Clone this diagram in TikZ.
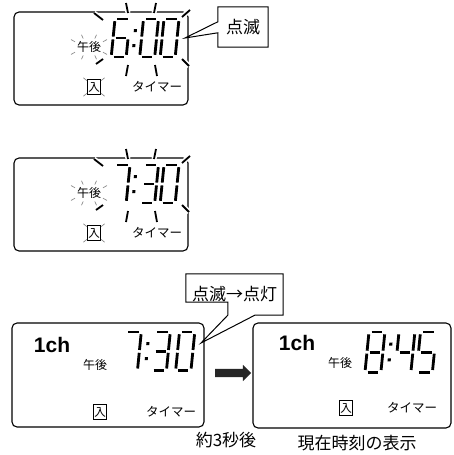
\documentclass[tikz,border=0pt]{standalone}
\usepackage{fontspec}
\usepackage{tikz}
\usetikzlibrary{shapes.arrows, calc}
\newfontfamily\jpfont{Noto Sans CJK JP}
\newfontfamily\chfont{Liberation Sans}

% one slanted seven-segment digit: [scale]{x}{y}{segments}
\newcommand{\lcddigit}[4][1]{%
  \begin{scope}[shift={(#2,#3)}, xslant=0.1, scale=#1]
    \coordinate (a1) at (2.4,0);   \coordinate (a2) at (12.6,0);
    \coordinate (b1) at (15,2.2);  \coordinate (b2) at (15,17.6);
    \coordinate (c1) at (15,20.4); \coordinate (c2) at (15,35.8);
    \coordinate (d1) at (2.4,38);  \coordinate (d2) at (12.6,38);
    \coordinate (e1) at (0,20.4);  \coordinate (e2) at (0,35.8);
    \coordinate (f1) at (0,2.2);   \coordinate (f2) at (0,17.6);
    \coordinate (g1) at (2.4,19);  \coordinate (g2) at (12.6,19);
    \foreach \s in {#4} {\draw[seg] (\s1) -- (\s2);}
  \end{scope}}
\newcommand{\lcdcolon}[3][1]{%
  \begin{scope}[shift={(#2,#3)}, xslant=0.1, scale=#1]
    \fill (-1.5,10) rectangle (1.5,13);
    \fill (-1.5,25) rectangle (1.5,28);
  \end{scope}}

\begin{document}
\begin{tikzpicture}[x=1pt, y=-1pt,
    lcd/.style={draw, line width=1.1pt, rounded corners=5pt},
    seg/.style={line width=2.8pt},
    flash/.style={line width=1.8pt, preaction={draw=white, line width=5pt}},
    glint/.style={black!45, line width=0.7pt},
    bubble/.style={draw, line width=1pt},
    pm/.style={font=\jpfont\fontsize{12}{12}\selectfont, inner sep=0pt},
    key/.style={draw, line width=1pt, font=\jpfont\fontsize{11.5}{11.5}\selectfont,
                minimum width=13pt, minimum height=15pt, inner sep=0pt},
    mode/.style={font=\jpfont\fontsize{12.5}{12.5}\selectfont, inner sep=0pt},
    chan/.style={font=\chfont\bfseries\fontsize{21}{21}\selectfont, inner sep=0pt},
    lbl/.style={font=\jpfont\fontsize{17}{17}\selectfont, inner sep=0pt}
  ]
  \useasboundingbox (0,0) rectangle (454,455);

  % display frames
  \node[lcd, minimum width=174pt, minimum height=93pt]  (lcdA) at (101,58.5) {};
  \node[lcd, minimum width=174pt, minimum height=93pt]  (lcdB) at (101,204.5) {};
  \node[lcd, minimum width=192pt, minimum height=104pt] (lcdC) at (108,375) {};
  \node[lcd, minimum width=198pt, minimum height=105pt] (lcdD) at (352,375.5) {};

  % blinking rays round the time
  \foreach \dy in {0,146} {
    \begin{scope}[shift={(0,\dy)}]
      \draw[flash] (94,13) -- (103,20);
      \draw[flash] (126,3) -- (128,13);
      \draw[flash] (156,3) -- (154,13);
      \draw[flash] (190,10) -- (182,17);
      \draw[flash] (182,59) -- (189,66);
      \draw[flash] (155,65) -- (157,76);
      \draw[flash] (128,65) -- (126,76);
      \draw[flash] (103,59) -- (96,64);
    \end{scope}
  }

  % texts
  \node[pm]   (pmA)   at (89,47)   {午後};
  \node[key]  (inA)   at (94,87)   {入};
  \node[mode] (modeA) at (157,87)  {タイマー};
  \node[pm]   (pmB)   at (89,193)  {午後};
  \node[key]  (inB)   at (94,233)  {入};
  \node[mode] (modeB) at (157,233) {タイマー};
  \node[chan] (chC)   at (52,345)  {1ch};
  \node[pm]   (pmC)   at (95,365)  {午後};
  \node[key]  (inC)   at (100,412) {入};
  \node[mode] (modeC) at (171,412) {タイマー};
  \node[chan] (chD)   at (297,343) {1ch};
  \node[pm]   (pmD)   at (340,363) {午後};
  \node[key]  (inD)   at (346,408) {入};
  \node[mode] (modeD) at (412,408) {タイマー};

  % small glints
  \foreach \p in {pmA,pmB}
    \foreach \a in {35,70,110,145,215,250,290,325}
      \draw[glint] ($(\p)+(\a:17 and 9)$) -- ($(\p)+(\a:22 and 13)$);
  \foreach \p in {inA,inB}
    \foreach \a in {45,135,225,315}
      \draw[glint] ($(\p)+(\a:10 and 9)$) -- ($(\p)+(\a:15 and 13)$);

  % digits
  \lcddigit{115}{19}{a,c,d,e,f,g}
  \lcdcolon{136.5}{19}
  \lcddigit{143.5}{19}{a,b,c,d,e,f}
  \lcddigit{164}{19}{a,b,c,d,e,f}

  \lcddigit{115}{165}{a,b,c}
  \lcdcolon{136.5}{165}
  \lcddigit{143.5}{165}{a,b,c,d,g}
  \lcddigit{164}{165}{a,b,c,d,e,f}

  \lcddigit[1.02]{126}{332}{a,b,c}
  \lcdcolon{149}{332}
  \lcddigit[1.02]{155}{332}{a,b,c,d,g}
  \lcddigit[1.02]{179.5}{332}{a,b,c,d,e,f}

  \lcddigit[1.06]{369}{332}{a,b,c,d,e,f,g}
  \lcdcolon[1.05]{392}{332}
  \lcddigit[1.06]{399}{332}{b,c,f,g}
  \lcddigit[1.06]{420.5}{332}{a,c,d,f,g}

  % callouts
  \node[lbl, minimum width=50pt, minimum height=40pt] (blinkA) at (243,27) {点滅};
  \coordinate (tipA) at (185,38);
  \draw[bubble] (blinkA.north west) -- (blinkA.north east) -- (blinkA.south east)
    -- (blinkA.south west) -- ($(blinkA.north west)+(0,26)$) -- (tipA)
    -- ($(blinkA.north west)+(0,15)$) -- cycle;

  \node[lbl, minimum width=97pt, minimum height=41pt] (blinkB) at (234.5,294.5) {点滅→点灯};
  \coordinate (tipB) at (201,343);
  \draw[bubble] (blinkB.north west) -- (blinkB.north east) -- (blinkB.south east)
    -- ($(blinkB.south west)+(69,0)$) -- (tipB) -- ($(blinkB.south west)+(42,0)$)
    -- ($(blinkB.south west)+(42,-13)$) -- ($(blinkB.south west)+(0,-13)$) -- cycle;

  % arrow and captions
  \node[single arrow, fill=black!85, inner sep=4pt, minimum height=36pt,
        single arrow head extend=4pt, single arrow head indent=0pt] (next) at (231,373) {};
  \node[lbl] (wait) at (226,440) {約3秒後};
  \node[lbl] (now)  at (357,443) {現在時刻の表示};
\end{tikzpicture}
\end{document}
